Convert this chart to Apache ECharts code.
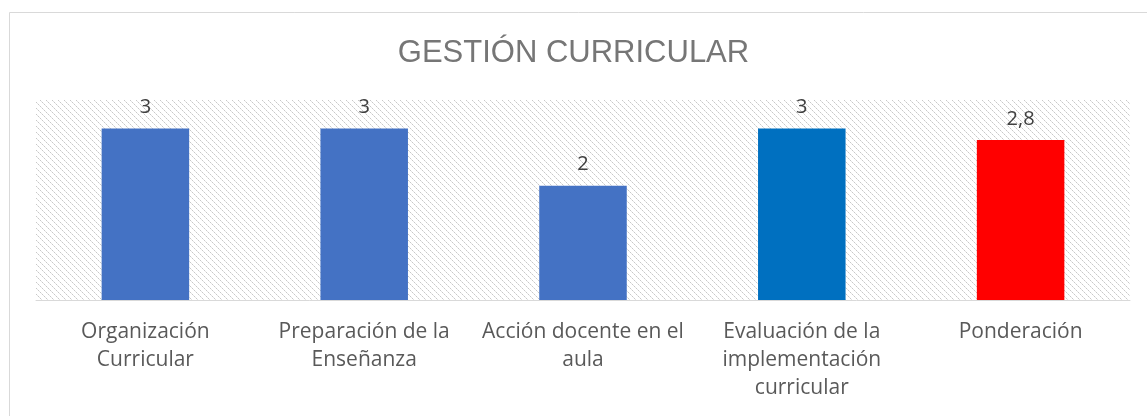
<!DOCTYPE html>
<html>
<head>
<meta charset="utf-8">
<script src="https://cdn.jsdelivr.net/npm/echarts@6/dist/echarts.min.js"></script>
<style>
  html, body { margin: 0; padding: 0; background: #fff; }
  #chart { width: 1147px; height: 416px; }
</style>
</head>
<body>
<div id="chart"></div>
<script>
// chart data
const categories = [
  'Organización\nCurricular',
  'Preparación de la\nEnseñanza',
  'Acción docente en el\naula',
  'Evaluación de la\nimplementación\ncurricular',
  'Ponderación'
]
const values = [3, 3, 2, 3, 2.8]
const barColors = ['#4472C4', '#4472C4', '#4472C4', '#0070C0', '#FF0000']

// hatched plot background (light downward diagonal)
function makeHatch() {
  const c = document.createElement('canvas')
  c.width = 6
  c.height = 6
  const ctx = c.getContext('2d')
  ctx.fillStyle = '#ffffff'
  ctx.fillRect(0, 0, 6, 6)
  for (let i = 0; i < 6; i++) {
    ctx.fillStyle = i % 2 === 0 ? '#c8c8c8' : '#e2e2e2'
    ctx.fillRect(i, i, 1, 1)
  }
  return c
}

const chart = echarts.init(document.getElementById('chart'))

const option = {
  backgroundColor: '#ffffff',
  animation: false,
  title: {
    text: 'GESTIÓN CURRICULAR',
    left: 'center',
    top: 33,
    textStyle: {
      fontFamily: 'Liberation Sans',
      fontSize: 31,
      fontWeight: 'normal',
      color: '#767676'
    }
  },
  graphic: [
    {
      type: 'rect',
      left: 7,
      top: 10,
      shape: { width: 1160, height: 430 },
      style: { fill: null, stroke: '#d9d9d9', lineWidth: 1 },
      silent: true,
      z: -1
    }
  ],
  grid: {
    left: 36,
    right: 17,
    top: 100,
    bottom: 116,
    show: true,
    borderWidth: 0,
    backgroundColor: { image: makeHatch(), repeat: 'repeat' }
  },
  xAxis: {
    type: 'category',
    data: categories,
    axisLine: { lineStyle: { color: '#d9d9d9', width: 1 } },
    axisTick: { show: false },
    axisLabel: {
      interval: 0,
      margin: 18,
      fontFamily: 'Open Sans',
      fontSize: 21,
      lineHeight: 28,
      color: '#595959'
    }
  },
  yAxis: {
    type: 'value',
    min: 0,
    max: 3.5,
    show: false,
    splitLine: { show: false }
  },
  series: [
    {
      type: 'bar',
      barWidth: '40%',
      data: values.map((v, i) => ({ value: v, itemStyle: { color: barColors[i] } })),
      label: {
        show: true,
        position: 'top',
        distance: 11,
        fontFamily: 'Open Sans',
        fontSize: 20,
        color: '#404040',
        formatter: p => String(p.value).replace('.', ',')
      }
    }
  ]
}

chart.setOption(option)
</script>
</body>
</html>
